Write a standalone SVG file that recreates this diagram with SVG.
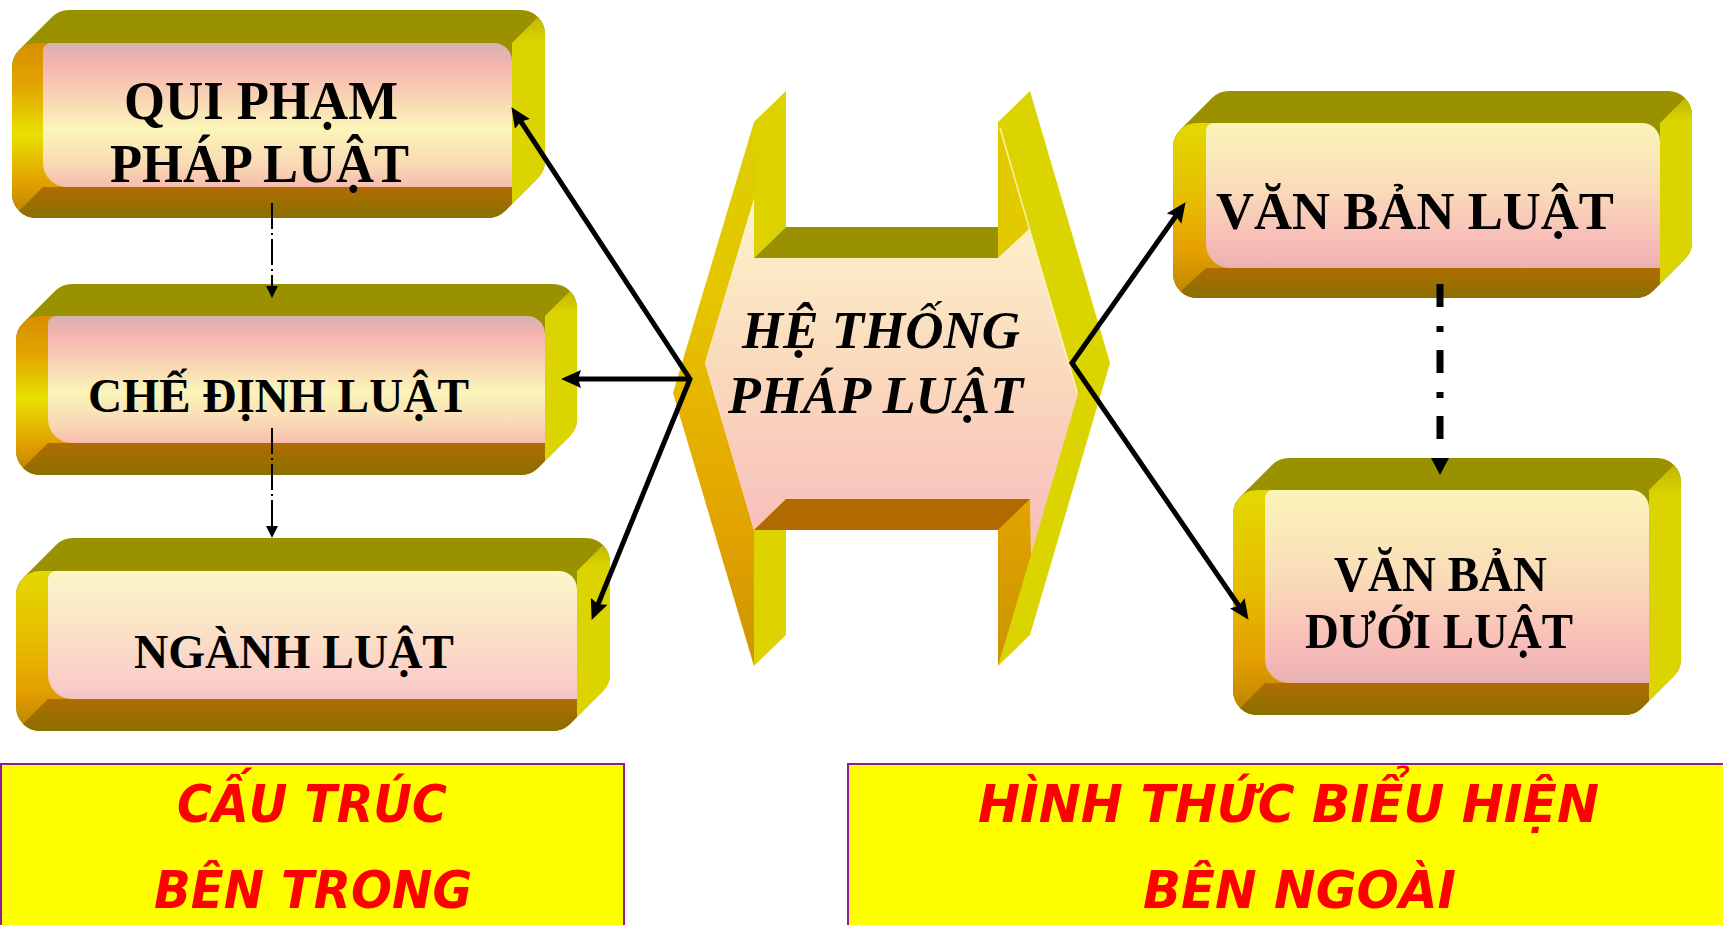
<svg xmlns="http://www.w3.org/2000/svg" width="1723" height="925" viewBox="0 0 1723 925">
<style>
.top{fill:#9a9100}
.side{fill:url(#sideG)}
.t{font-family:"Liberation Serif","Times New Roman",serif;font-weight:bold;fill:#000}
.ti{font-family:"Liberation Serif","Times New Roman",serif;font-weight:bold;font-style:italic;fill:#000}
.lbl{font-family:"DejaVu Sans","Liberation Sans",sans-serif;font-weight:bold;font-style:italic;fill:#ff0000;font-size:52px}
.lbox{fill:#ffff00;stroke:#8e1aa0;stroke-width:2}
.conn{fill:none;stroke:#000;stroke-width:5;stroke-linejoin:miter}
.thin{fill:none;stroke:#000;stroke-width:2;stroke-dasharray:26 4 2 4}
.thick{fill:none;stroke:#000;stroke-width:7;stroke-dasharray:23 19 6 18}
</style>
<defs>
<linearGradient id="sideG" x1="0" y1="0" x2="0" y2="1">
<stop offset="0" stop-color="#b8b000"/><stop offset="0.15" stop-color="#dcd400"/><stop offset="1" stop-color="#dcd400"/>
</linearGradient>
<linearGradient id="bevA" x1="0" y1="0" x2="0" y2="1">
<stop offset="0" stop-color="#d88e00"/><stop offset="0.25" stop-color="#e2a600"/><stop offset="0.52" stop-color="#e8e000"/><stop offset="0.8" stop-color="#e2a000"/><stop offset="1" stop-color="#b88000"/>
</linearGradient>
<linearGradient id="bevB" x1="0" y1="0" x2="0" y2="1">
<stop offset="0" stop-color="#e4d800"/><stop offset="0.45" stop-color="#e6bc00"/><stop offset="0.75" stop-color="#e49e00"/><stop offset="1" stop-color="#b88400"/>
</linearGradient>
<linearGradient id="bot" x1="0" y1="0" x2="0" y2="1">
<stop offset="0" stop-color="#b06c00"/><stop offset="1" stop-color="#8a7000"/>
</linearGradient>
<linearGradient id="faceA" x1="0" y1="0" x2="0" y2="1">
<stop offset="0" stop-color="#d5b2b0"/><stop offset="0.15" stop-color="#f6b4b0"/><stop offset="0.38" stop-color="#f9d4b4"/><stop offset="0.6" stop-color="#fbf5b8"/><stop offset="0.85" stop-color="#f9d8b4"/><stop offset="1" stop-color="#f6bcae"/>
</linearGradient>
<linearGradient id="faceB" x1="0" y1="0" x2="0" y2="1">
<stop offset="0" stop-color="#fcf6c8"/><stop offset="0.5" stop-color="#fae0c6"/><stop offset="0.92" stop-color="#fbcaca"/><stop offset="1" stop-color="#efc4c4"/>
</linearGradient>
<linearGradient id="faceC" x1="0" y1="0" x2="0" y2="1">
<stop offset="0" stop-color="#fbf4b8"/><stop offset="0.45" stop-color="#f9dcb8"/><stop offset="0.82" stop-color="#f8bcb8"/><stop offset="1" stop-color="#e9b2b2"/>
</linearGradient>
<linearGradient id="hexFace" x1="0" y1="0" x2="0" y2="1">
<stop offset="0" stop-color="#fcf4cc"/><stop offset="0.5" stop-color="#fad8bc"/><stop offset="1" stop-color="#f8bcbc"/>
</linearGradient>
<linearGradient id="hexLeft" gradientUnits="userSpaceOnUse" x1="0" y1="91" x2="0" y2="666">
<stop offset="0" stop-color="#dcd000"/><stop offset="0.35" stop-color="#e4c600"/><stop offset="0.55" stop-color="#e6b400"/><stop offset="0.8" stop-color="#e0a000"/><stop offset="1" stop-color="#c89600"/>
</linearGradient>
<linearGradient id="hexRB" x1="0" y1="0" x2="0" y2="1">
<stop offset="0" stop-color="#e2a400"/><stop offset="1" stop-color="#c99400"/>
</linearGradient>
<clipPath id="c1"><path d="M12,194 L12,67 A24,24 0 0 1 19,50 L52,17 A24,24 0 0 1 69,10 L521,10 A24,24 0 0 1 545,34 L545,161 A24,24 0 0 1 538,178 L505,211 A24,24 0 0 1 488,218 L36,218 A24,24 0 0 1 12,194 Z"/></clipPath>
<clipPath id="c2"><path d="M16,451 L16,340 A24,24 0 0 1 23,323 L55,291 A24,24 0 0 1 72,284 L553,284 A24,24 0 0 1 577,308 L577,419 A24,24 0 0 1 570,436 L538,468 A24,24 0 0 1 521,475 L40,475 A24,24 0 0 1 16,451 Z"/></clipPath>
<clipPath id="c3"><path d="M16,707 L16,595 A24,24 0 0 1 23,578 L56,545 A24,24 0 0 1 73,538 L586,538 A24,24 0 0 1 610,562 L610,674 A24,24 0 0 1 603,691 L570,724 A24,24 0 0 1 553,731 L40,731 A24,24 0 0 1 16,707 Z"/></clipPath>
<clipPath id="c4"><path d="M1173,274 L1173,147 A24,24 0 0 1 1180,130 L1212,98 A24,24 0 0 1 1229,91 L1668,91 A24,24 0 0 1 1692,115 L1692,242 A24,24 0 0 1 1685,259 L1653,291 A24,24 0 0 1 1636,298 L1197,298 A24,24 0 0 1 1173,274 Z"/></clipPath>
<clipPath id="c5"><path d="M1233,691 L1233,514 A24,24 0 0 1 1240,497 L1272,465 A24,24 0 0 1 1289,458 L1657,458 A24,24 0 0 1 1681,482 L1681,659 A24,24 0 0 1 1674,676 L1642,708 A24,24 0 0 1 1625,715 L1257,715 A24,24 0 0 1 1233,691 Z"/></clipPath>
<marker id="ah" viewBox="0 0 20 18" refX="9" refY="9" markerWidth="20" markerHeight="18" markerUnits="userSpaceOnUse" orient="auto-start-reverse"><path d="M0,0 L20,9 L0,18 L3,9 Z" fill="#000"/></marker>
<marker id="ah2" viewBox="0 0 12 12" refX="0" refY="6" markerWidth="12" markerHeight="12" markerUnits="userSpaceOnUse" orient="auto"><path d="M0,0 L12,6 L0,12 Z" fill="#000"/></marker>
<marker id="ah3" viewBox="0 0 17 18" refX="0" refY="9" markerWidth="17" markerHeight="18" markerUnits="userSpaceOnUse" orient="auto"><path d="M0,0 L17,9 L0,18 Z" fill="#000"/></marker>
</defs>
<rect x="0" y="0" width="1723" height="925" fill="#ffffff"/>

<g id="qui-pham">
<rect x="0" y="0" width="1723" height="925" class="top" clip-path="url(#c1)"/>
<g clip-path="url(#c1)">
<polygon class="side" points="512,43 545,10 545,185 512,218"/>
<rect x="12" y="43" width="500" height="175" rx="24" fill="url(#bevA)"/>
<polygon fill="url(#bot)" points="43,187 512,187 512,218 12,218"/>
</g>
<path fill="url(#faceA)" d="M43,51 A8,8 0 0 1 51,43 L494,43 A18,18 0 0 1 512,61 L512,187 L67,187 A24,24 0 0 1 43,163 Z"/>
<text class="t" font-size="54" x="124" y="119" textLength="274" lengthAdjust="spacingAndGlyphs">QUI PHẠM</text>
<text class="t" font-size="54" x="110" y="182" textLength="299" lengthAdjust="spacingAndGlyphs">PHÁP LUẬT</text>
</g>

<g id="che-dinh">
<rect x="0" y="0" width="1723" height="925" class="top" clip-path="url(#c2)"/>
<g clip-path="url(#c2)">
<polygon class="side" points="545,316 577,284 577,443 545,475"/>
<rect x="16" y="316" width="529" height="159" rx="24" fill="url(#bevA)"/>
<polygon fill="url(#bot)" points="48,443 545,443 545,475 16,475"/>
</g>
<path fill="url(#faceA)" d="M48,324 A8,8 0 0 1 56,316 L527,316 A18,18 0 0 1 545,334 L545,443 L72,443 A24,24 0 0 1 48,419 Z"/>
<text class="t" font-size="48" x="88" y="412" textLength="381" lengthAdjust="spacingAndGlyphs">CHẾ ĐỊNH LUẬT</text>
</g>

<g id="nganh-luat">
<rect x="0" y="0" width="1723" height="925" class="top" clip-path="url(#c3)"/>
<g clip-path="url(#c3)">
<polygon class="side" points="577,571 610,538 610,698 577,731"/>
<rect x="16" y="571" width="561" height="160" rx="24" fill="url(#bevB)"/>
<polygon fill="url(#bot)" points="48,699 577,699 577,731 16,731"/>
</g>
<path fill="url(#faceB)" d="M48,579 A8,8 0 0 1 56,571 L559,571 A18,18 0 0 1 577,589 L577,699 L72,699 A24,24 0 0 1 48,675 Z"/>
<text class="t" font-size="48" x="134" y="668" textLength="320" lengthAdjust="spacingAndGlyphs">NGÀNH LUẬT</text>
</g>

<g id="van-ban-luat">
<rect x="0" y="0" width="1723" height="925" class="top" clip-path="url(#c4)"/>
<g clip-path="url(#c4)">
<polygon class="side" points="1660,123 1692,91 1692,266 1660,298"/>
<rect x="1173" y="123" width="487" height="175" rx="24" fill="url(#bevB)"/>
<polygon fill="url(#bot)" points="1206,268 1660,268 1660,298 1173,298"/>
</g>
<path fill="url(#faceC)" d="M1206,131 A8,8 0 0 1 1214,123 L1642,123 A18,18 0 0 1 1660,141 L1660,268 L1230,268 A24,24 0 0 1 1206,244 Z"/>
<text class="t" font-size="52" x="1216" y="229" textLength="398" lengthAdjust="spacingAndGlyphs">VĂN BẢN LUẬT</text>
</g>

<g id="van-ban-duoi-luat">
<rect x="0" y="0" width="1723" height="925" class="top" clip-path="url(#c5)"/>
<g clip-path="url(#c5)">
<polygon class="side" points="1649,490 1681,458 1681,683 1649,715"/>
<rect x="1233" y="490" width="416" height="225" rx="24" fill="url(#bevB)"/>
<polygon fill="url(#bot)" points="1265,683 1649,683 1649,715 1233,715"/>
</g>
<path fill="url(#faceC)" d="M1265,498 A8,8 0 0 1 1273,490 L1631,490 A18,18 0 0 1 1649,508 L1649,683 L1289,683 A24,24 0 0 1 1265,659 Z"/>
<text class="t" font-size="50" x="1334" y="591" textLength="213" lengthAdjust="spacingAndGlyphs">VĂN BẢN</text>
<text class="t" font-size="50" x="1305" y="648" textLength="268" lengthAdjust="spacingAndGlyphs">DƯỚI LUẬT</text>
</g>

<g id="he-thong">
<polygon fill="#dcd400" points="998,122 1030,91 1110,363 1030,635 998,666"/>
<polygon fill="url(#hexLeft)" points="754,122 673,393 754,666 754,530 705,363 754,199"/>
<polygon fill="#ddd200" points="754,122 786,91 786,227 754,258"/>
<polygon fill="#dcd300" points="754,530 786,499 786,635 754,666"/>
<polygon fill="#e3ca00" points="998,122 1030,230 998,258"/>
<polygon fill="url(#hexRB)" points="998,530 1030,499 1031,555 998,666"/>
<polygon fill="url(#hexFace)" points="705,363 754,199 754,258 998,258 1029,229 1078,394 1031,555 1030,499 786,499 754,530"/>
<polygon fill="#9a9100" points="786,227 998,227 998,258 754,258"/>
<polygon fill="#b06a00" points="786,499 1030,499 998,530 754,530"/>
<line x1="1000" y1="128" x2="1077" y2="392" stroke="#fffbd0" stroke-width="1.5" opacity="0.8"/>
<text class="ti" font-size="52" x="742" y="348" textLength="278" lengthAdjust="spacingAndGlyphs">HỆ THỐNG</text>
<text class="ti" font-size="52" x="728" y="413" textLength="295" lengthAdjust="spacingAndGlyphs">PHÁP LUẬT</text>
</g>

<g id="connectors">
<polyline class="conn" points="517.5,116.4 690,379 595.8,609.7" marker-start="url(#ah)" marker-end="url(#ah)"/>
<line class="conn" x1="690" y1="379" x2="572" y2="379" marker-end="url(#ah)"/>
<polyline class="conn" points="1179.2,211.2 1072,363 1242.3,610.8" marker-start="url(#ah)" marker-end="url(#ah)"/>
<line class="thin" x1="272" y1="203" x2="272" y2="286" marker-end="url(#ah2)"/>
<line class="thin" x1="272" y1="428" x2="272" y2="526" marker-end="url(#ah2)"/>
<line class="thick" x1="1440" y1="284" x2="1440" y2="458" marker-end="url(#ah3)"/>
</g>

<g id="label-cau-truc">
<rect class="lbox" x="1" y="764" width="623" height="170"/>
<text class="lbl" x="177" y="822" textLength="270" lengthAdjust="spacingAndGlyphs">CẤU TRÚC</text>
<text class="lbl" x="154" y="908" textLength="318" lengthAdjust="spacingAndGlyphs">BÊN TRONG</text>
</g>

<g id="label-hinh-thuc">
<rect class="lbox" x="848" y="764" width="880" height="170"/>
<text class="lbl" x="978" y="822" textLength="621" lengthAdjust="spacingAndGlyphs">HÌNH THỨC BIỂU HIỆN</text>
<text class="lbl" x="1143" y="908" textLength="313" lengthAdjust="spacingAndGlyphs">BÊN NGOÀI</text>
</g>
</svg>
